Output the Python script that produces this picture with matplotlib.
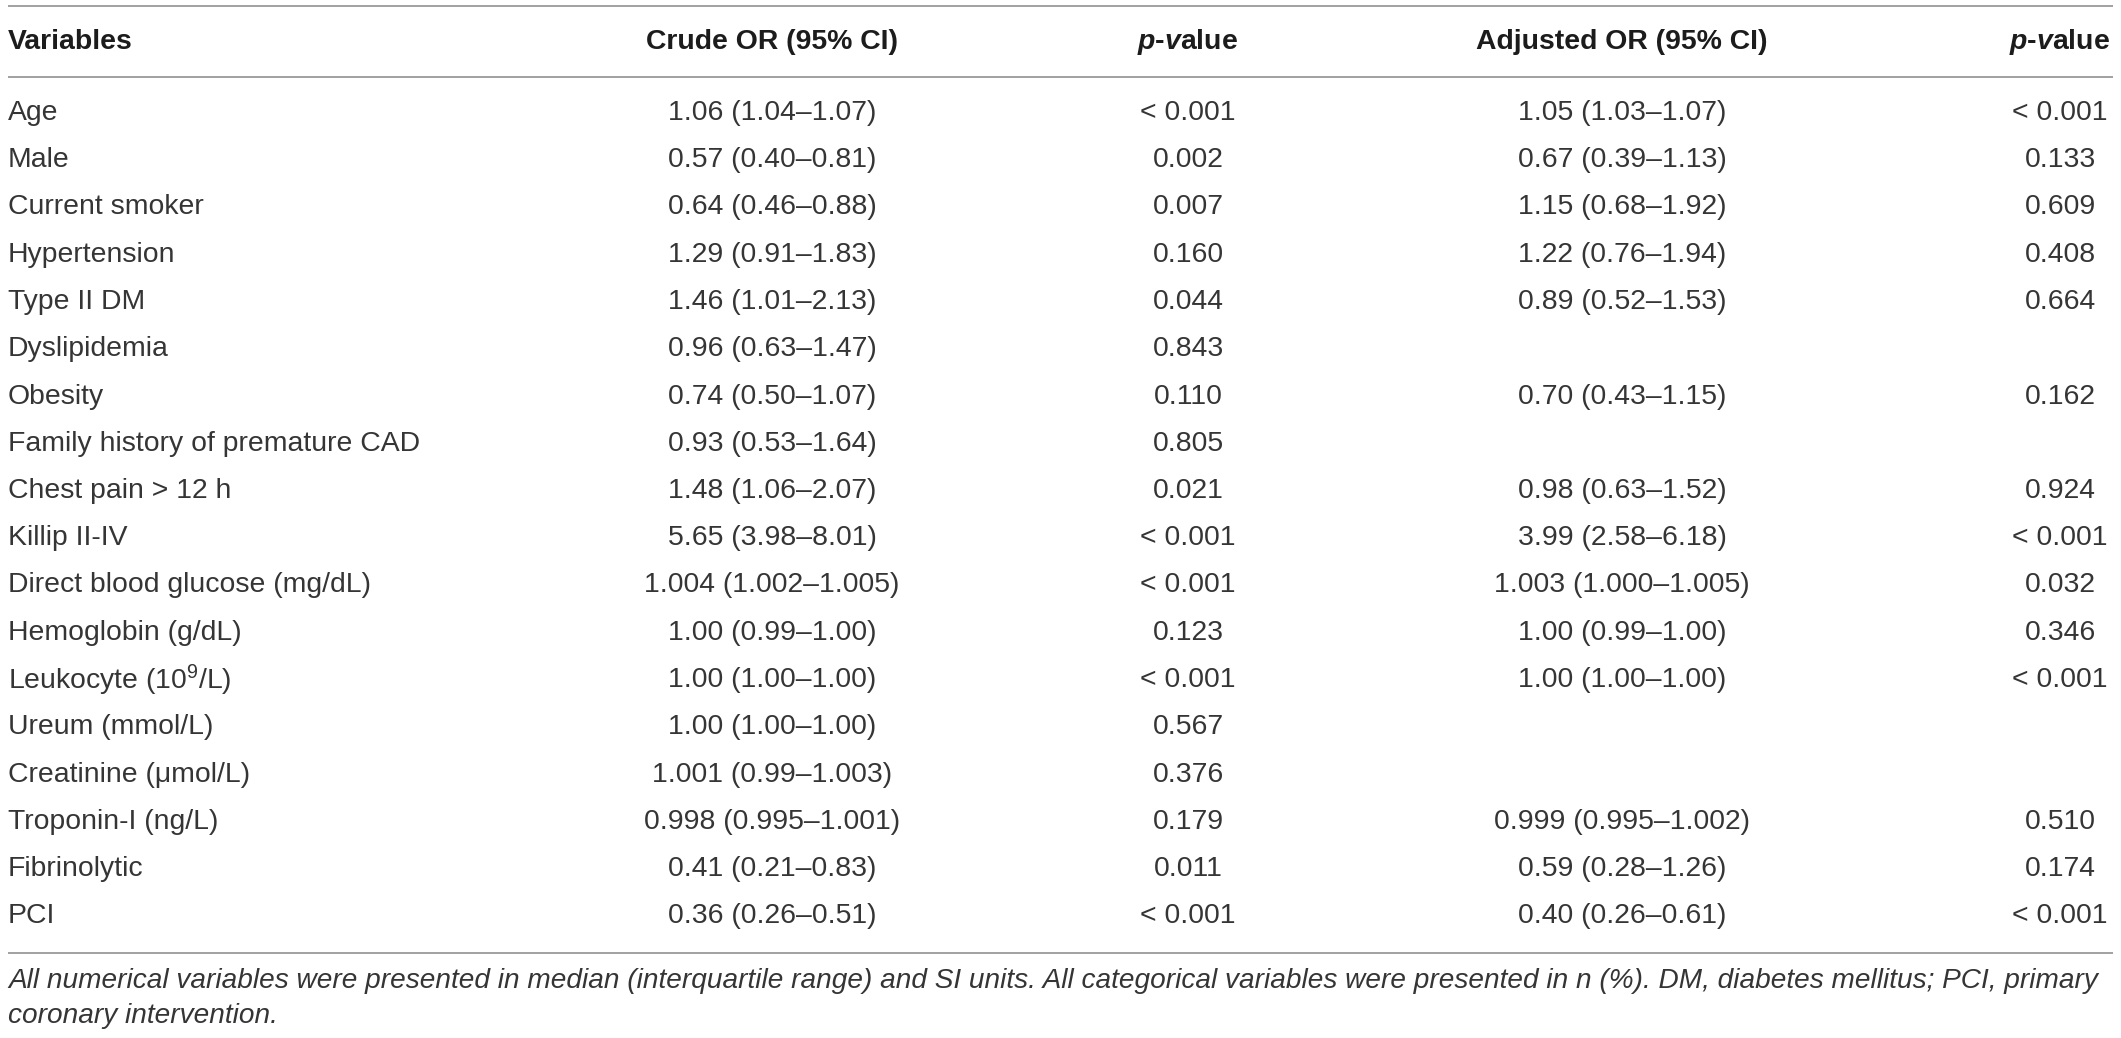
import matplotlib
matplotlib.use("Agg")
import matplotlib.pyplot as plt

# -----------------------------
# Table content
# -----------------------------
headers = ["Variables", "Crude OR (95% CI)", r"$\mathit{p}$-$\mathit{v}$alue",
           "Adjusted OR (95% CI)", r"$\mathit{p}$-$\mathit{v}$alue"]

variables = [
    "Age", "Male", "Current smoker", "Hypertension", "Type II DM", "Dyslipidemia",
    "Obesity", "Family history of premature CAD", "Chest pain > 12 h", "Killip II-IV",
    "Direct blood glucose (mg/dL)", "Hemoglobin (g/dL)",
    r"Leukocyte (10$^{\mathregular{9}}$/L)", "Ureum (mmol/L)", "Creatinine (\u03bcmol/L)",
    "Troponin-I (ng/L)", "Fibrinolytic", "PCI",
]

crude_or = [
    "1.06 (1.04\u20131.07)", "0.57 (0.40\u20130.81)", "0.64 (0.46\u20130.88)",
    "1.29 (0.91\u20131.83)", "1.46 (1.01\u20132.13)", "0.96 (0.63\u20131.47)",
    "0.74 (0.50\u20131.07)", "0.93 (0.53\u20131.64)", "1.48 (1.06\u20132.07)",
    "5.65 (3.98\u20138.01)", "1.004 (1.002\u20131.005)", "1.00 (0.99\u20131.00)",
    "1.00 (1.00\u20131.00)", "1.00 (1.00\u20131.00)", "1.001 (0.99\u20131.003)",
    "0.998 (0.995\u20131.001)", "0.41 (0.21\u20130.83)", "0.36 (0.26\u20130.51)",
]

crude_p = [
    "< 0.001", "0.002", "0.007", "0.160", "0.044", "0.843", "0.110", "0.805", "0.021",
    "< 0.001", "< 0.001", "0.123", "< 0.001", "0.567", "0.376", "0.179", "0.011", "< 0.001",
]

adjusted_or = [
    "1.05 (1.03\u20131.07)", "0.67 (0.39\u20131.13)", "1.15 (0.68\u20131.92)",
    "1.22 (0.76\u20131.94)", "0.89 (0.52\u20131.53)", "",
    "0.70 (0.43\u20131.15)", "", "0.98 (0.63\u20131.52)",
    "3.99 (2.58\u20136.18)", "1.003 (1.000\u20131.005)", "1.00 (0.99\u20131.00)",
    "1.00 (1.00\u20131.00)", "", "",
    "0.999 (0.995\u20131.002)", "0.59 (0.28\u20131.26)", "0.40 (0.26\u20130.61)",
]

adjusted_p = [
    "< 0.001", "0.133", "0.609", "0.408", "0.664", "", "0.162", "", "0.924",
    "< 0.001", "0.032", "0.346", "< 0.001", "", "", "0.510", "0.174", "< 0.001",
]

footnote = [
    "All numerical variables were presented in median (interquartile range) and SI units. "
    "All categorical variables were presented in n (%). DM, diabetes mellitus; PCI, primary",
    "coronary intervention.",
]

# -----------------------------
# Style
# -----------------------------
plt.rcParams["font.family"] = ["Liberation Sans", "DejaVu Sans"]
plt.rcParams["mathtext.fontset"] = "custom"
plt.rcParams["mathtext.rm"] = "Liberation Sans"
plt.rcParams["mathtext.it"] = "Liberation Sans:italic:bold"
plt.rcParams["mathtext.bf"] = "Liberation Sans:bold"

W, H = 2121, 1038
fig = plt.figure(figsize=(W / 100, H / 100), dpi=100)
ax = fig.add_axes([0, 0, 1, 1])
ax.set_xlim(0, W)
ax.set_ylim(H, 0)
ax.axis("off")

fs = 20.4
body_color = "#353535"
head_color = "#1c1c1c"
line_color = "#9a9a9a"

# column anchors (x, alignment)
col_x = [8, 772, 1188, 1622, 2060]
col_ha = ["left", "center", "center", "center", "center"]

header_y = 42
row_y0 = 113
row_step = 47.25

# rules
for y in (5.5, 77, 953):
    ax.plot([8, 2113], [y, y], color=line_color, lw=1.3, solid_capstyle="butt")

# header
for x, ha, h in zip(col_x, col_ha, headers):
    ax.text(x, header_y, h, ha=ha, va="center", fontsize=fs,
            fontweight="bold", color=head_color)

# body
columns = [variables, crude_or, crude_p, adjusted_or, adjusted_p]
for i in range(len(variables)):
    y = row_y0 + i * row_step
    for x, ha, col in zip(col_x, col_ha, columns):
        if col[i]:
            ax.text(x, y, col[i], ha=ha, va="center", fontsize=fs, color=body_color)

# footnote
for j, line in enumerate(footnote):
    ax.text(8, 981 + j * 35, line, ha="left", va="center", fontsize=20.2,
            fontstyle="italic", color=body_color)

fig.savefig("out.png", dpi=100)
